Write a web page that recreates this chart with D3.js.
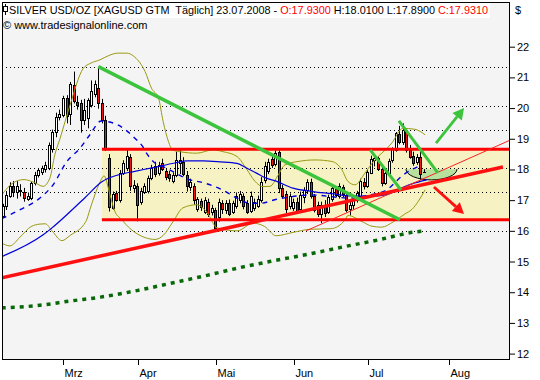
<!DOCTYPE html>
<html><head><meta charset="utf-8">
<script src="https://cdn.jsdelivr.net/npm/d3@7"></script>
<style>html,body{margin:0;padding:0;background:#fff;}svg{display:block;font-family:"Liberation Sans",Arial,sans-serif;}</style>
</head><body><svg id="c" width="540" height="380"></svg>
<script>
// ---------------- DATA ----------------
const firstDay = [2008, 1, 7];      // 07.02.2008 (first candle)
const axisLastDay = [2008, 7, 19];  // axis runs on into August
const monthNames = ["Jan","Feb","Mrz","Apr","Mai","Jun","Jul","Aug","Sep","Okt","Nov","Dez"];
const yTicks = [12,13,14,15,16,17,18,19,20,21,22];

const open = [16.47,16.80,17.15,17.45,17.25,17.30,17.25,17.05,17.08,17.55,17.82,17.92,18.02,18.06,18.66,19.22,19.72,
 19.78,20.32,19.80,20.75,20.21,20.16,19.62,19.67,20.10,20.45,20.65,20.16,19.62,18.37,16.76,17.23,17.00,17.90,18.05,18.40,17.40,
 17.45,16.95,17.28,17.30,17.72,18.10,17.88,18.20,17.95,17.85,17.62,17.82,18.22,18.25,17.82,17.42,17.45,16.72,16.96,16.62,16.95,16.60,
 16.68,16.45,16.92,16.68,16.90,16.62,16.80,17.00,17.12,16.90,16.65,16.75,16.82,17.00,17.65,17.95,18.35,18.18,18.58,17.40,17.20,16.80,
 16.75,16.95,16.70,17.10,17.32,17.60,17.12,16.85,16.55,16.85,16.62,17.05,17.35,17.15,17.42,17.18,16.70,16.85,17.00,17.15,17.60,
 17.45,17.90,18.30,18.38,18.00,17.55,17.90,18.30,18.64,19.15,18.90,19.28,18.65,18.45,18.25,18.40,17.93];
const high = [16.88,17.30,17.58,17.62,17.62,17.52,17.40,17.25,17.60,17.92,18.05,18.12,18.25,18.88,19.30,19.85,19.95,
 20.40,20.42,20.85,21.19,20.40,20.27,20.30,20.32,20.90,20.90,21.35,20.30,19.75,18.50,17.28,17.30,17.98,18.30,18.64,18.50,17.65,
 17.55,17.40,17.55,17.80,18.15,18.25,18.25,18.35,18.05,17.95,17.90,18.58,18.69,18.40,17.95,17.70,17.55,17.10,17.05,17.10,17.05,16.85,
 16.75,17.05,17.00,17.00,17.02,16.98,17.25,17.30,17.22,17.00,17.28,17.05,17.15,17.75,18.25,18.35,18.45,18.62,18.66,17.50,17.30,17.22,
 17.05,17.08,17.28,17.42,17.68,17.70,17.20,16.95,16.95,17.00,17.18,17.45,17.45,17.55,17.50,17.25,16.95,17.10,17.30,17.70,17.72,
 18.00,18.45,18.45,18.42,18.10,18.00,18.35,18.72,19.22,19.42,19.50,19.35,18.80,18.58,18.50,18.64,18.01];
const low = [16.42,16.68,17.08,17.10,17.05,17.12,16.95,16.98,17.00,17.48,17.74,17.82,17.90,17.98,18.55,19.05,19.60,
 19.70,19.50,19.45,20.15,19.95,19.20,19.45,19.34,20.02,20.35,19.98,19.50,18.60,16.63,16.69,16.95,16.92,17.82,17.95,17.30,17.25,
 16.31,16.85,17.20,17.22,17.65,17.75,17.80,17.95,17.65,17.60,17.55,17.75,17.85,17.78,17.28,17.30,16.85,16.62,16.65,16.55,16.45,16.50,
 16.02,16.30,16.55,16.55,16.48,16.55,16.72,16.90,16.70,16.55,16.58,16.65,16.75,16.92,17.55,17.85,18.05,18.10,17.23,17.05,16.58,16.70,
 16.65,16.55,16.62,16.90,17.20,17.05,16.60,16.45,16.25,16.45,16.55,16.95,17.10,17.05,17.10,16.60,16.50,16.70,16.92,17.05,17.35,
 17.40,17.85,18.10,17.95,17.45,17.50,17.80,18.22,18.58,18.82,18.80,18.55,18.35,18.12,18.15,17.66,17.89];
const close = [16.80,17.18,17.45,17.28,17.45,17.34,17.06,17.12,17.55,17.82,17.98,18.05,18.15,18.80,19.22,19.72,19.80,
 20.32,19.74,20.78,20.22,20.10,19.61,19.95,20.27,20.55,20.80,20.16,19.61,18.69,16.79,17.20,17.02,17.90,18.22,18.45,17.45,17.50,
 16.85,17.30,17.45,17.72,18.05,17.85,18.15,18.02,17.75,17.73,17.82,18.31,18.32,17.85,17.45,17.58,17.00,17.03,16.78,17.00,16.55,16.75,
 16.10,16.95,16.70,16.92,16.55,16.90,17.12,17.20,16.80,16.62,17.15,16.95,17.05,17.60,18.12,18.25,18.15,18.55,17.40,17.15,16.70,17.12,
 16.95,16.65,17.18,17.32,17.58,17.15,16.68,16.55,16.85,16.58,17.10,17.38,17.18,17.45,17.20,16.68,16.85,17.02,17.22,17.62,17.45,
 17.92,18.35,18.38,18.02,17.55,17.90,18.28,18.66,19.18,18.88,19.30,18.62,18.42,18.20,18.42,17.85,17.931];

// indicator lines: [trading-day index, price]
const ma20 = [[-0.3,16.40],[4.9,16.69],[10.5,17.07],[14.2,17.50],[18.1,18.26],[21.8,18.69],[24.6,19.13],[27.8,19.58],[32.5,19.45],
 [37.3,19.02],[39.5,18.75],[40.6,18.53],[42.5,18.26],[46.3,18.04],[52.9,17.66],[56.6,17.57],[61.4,17.37],[66.1,17.07],[69.8,16.90],
 [72.7,16.90],[77.4,17.03],[82,17.12],[86.8,17.17],[98,17.07],[103.7,17.17],[108.5,17.34],[113.1,17.82],[118.3,18.15]];
const ma50 = [[-0.3,15.16],[11.4,15.87],[13.3,16.04],[23.2,17.08],[28,17.60],[32.5,17.82],[37.3,17.94],[42.1,18.05],[48.6,18.21],
 [52,18.28],[56.6,18.28],[61.4,18.25],[66.2,18.20],[69,18.04],[71.7,17.88],[74,17.74],[77.4,17.61],[82,17.39],[87.5,17.28],
 [92.9,17.21],[98,17.14],[103.7,17.13],[108.5,17.18],[111.6,17.34],[115.6,17.53],[119.8,17.66]];
const ma200 = [[-0.3,13.49],[9.4,13.56],[19.5,13.72],[27.6,13.84],[38.2,14.06],[47.8,14.30],[57.7,14.55],[67.3,14.81],[77.2,15.04],
 [86.8,15.25],[96.7,15.49],[106.3,15.71],[116.2,15.96],[119.5,16.00]];
const bbUpper = [[-0.3,17.17],[3,17.57],[6,17.67],[9,17.57],[11.4,17.45],[13.3,17.72],[14.7,18.48],[16.2,19.02],[19,20.10],
 [22.7,21.29],[24.6,21.45],[27.4,21.57],[30.3,21.73],[32.5,21.79],[35,21.79],[37.3,21.66],[40.2,21.19],[42,20.65],[44,20.32],
 [45.3,19.56],[46.8,18.91],[47.9,18.64],[50,18.58],[54.8,18.53],[59.4,18.64],[62.2,18.58],[66.2,18.42],[69,17.99],[71.2,17.62],
 [73.5,17.44],[75.5,17.45],[77.7,17.80],[79.7,18.15],[83.4,18.26],[88.2,18.31],[93,18.26],[95.8,17.99],[97.5,17.61],[99.5,17.50],
 [102.3,17.88],[104.3,18.20],[109.9,18.86],[113,19.34],[116.4,19.31],[119.3,19.13]];
const bbLower = [[-0.3,15.60],[2,15.51],[4.9,15.80],[8,16.14],[10.5,16.22],[12,16.23],[13.9,16.00],[16.7,15.68],[19,15.85],
 [23.5,16.31],[24.6,16.69],[26,17.17],[27.5,17.60],[28.6,17.79],[30.3,17.17],[31.7,16.62],[33.3,16.40],[36.2,16.05],[40.2,15.78],
 [43,15.72],[45.3,15.85],[48.1,16.30],[50.9,16.75],[54.8,16.85],[57.7,16.60],[60.5,16.10],[66.2,16.00],[70.7,16.25],[74,16.14],
 [77.2,15.84],[82,15.95],[86.8,16.05],[92.7,16.07],[96.7,16.36],[97.5,16.50],[101.5,16.30],[104.3,16.15],[107,16.12],[110.4,16.30],
 [113.6,16.55],[115.6,16.70],[117.6,17.00],[119.3,17.34]];

// drawing annotations (trading-day index, price)
const fibLow = 16.00, fibHigh = 21.33;
const fibRatios = [0, 0.236, 0.382, 0.5, 0.618, 0.764, 1];
const channelStart = 28, channelTop = 18.66, channelBottom = 16.36;
const redTrend = [[-0.3,14.47],[141.3,18.08]];
const redThin = [[85.7,16.00],[144,18.99]];
const greenDown = [[27,21.35],[112.2,16.36]];
const greenShort1 = [[103.8,18.64],[112.5,17.33]];
const greenShort2 = [[111.9,19.58],[122.9,17.89]];
const arrowUp = [[122.4,18.86],[130.3,20.00]];
const arrowDown = [[121.8,17.43],[130.3,16.55]];
const bowl = {center:121.1, top:18.01, halfDays:7.2, bottom:17.66};

// ---------------- CHART ----------------
const W = 540, H = 380;
const P = {l:2, t:2, r:510, b:360};
const svg = d3.select("#c");
const x = d3.scaleLinear().domain([0,126]).range([2.8,448.8]);
const y = d3.scaleLinear().domain([12,22]).range([353.6,46.7]);

// trading days (weekdays) used for month ticks
const days = d3.utcDay.range(new Date(Date.UTC(...firstDay)), new Date(Date.UTC(...axisLastDay)))
  .filter(d => d.getUTCDay() % 6 !== 0);
const monthTicks = days.map((d,i)=>({d,i})).filter(o => o.i>0 && o.d.getUTCMonth() !== days[o.i-1].getUTCMonth());

svg.append("rect").attr("width",W).attr("height",H).attr("fill","#fff");
svg.append("rect").attr("x",P.l).attr("y",P.t).attr("width",P.r-P.l).attr("height",P.b-P.t).attr("fill","#f4f4f4");
svg.append("defs").append("clipPath").attr("id","clip").append("rect")
  .attr("x",P.l).attr("y",P.t).attr("width",P.r-P.l).attr("height",P.b-P.t);
const g = svg.append("g").attr("clip-path","url(#clip)");

// yellow channel
g.append("rect").attr("x",x(channelStart)).attr("y",y(channelTop))
  .attr("width",P.r-x(channelStart)).attr("height",y(channelBottom)-y(channelTop)).attr("fill","#f6f2c3");

// fibonacci dotted levels
g.selectAll("line.fib").data(fibRatios).join("line").attr("class","fib")
  .attr("x1",P.l).attr("x2",P.r)
  .attr("y1",r=>Math.round(y(fibLow+r*(fibHigh-fibLow)))+0.5)
  .attr("y2",r=>Math.round(y(fibLow+r*(fibHigh-fibLow)))+0.5)
  .attr("stroke","#000").attr("stroke-width",1).attr("stroke-dasharray","1,3");

// bowl
const bx0 = x(bowl.center-bowl.halfDays), bx1 = x(bowl.center+bowl.halfDays);
const by = y(bowl.top), bry = y(bowl.bottom)-y(bowl.top), brx = (bx1-bx0)/2;
g.append("path").attr("d",`M${bx0},${by} A${brx},${bry} 0 0 0 ${bx1},${by} Z`).attr("fill","#b7e29e");
g.append("path").attr("d",`M${bx0},${by} A${brx},${bry} 0 0 0 ${bx1},${by}`).attr("fill","none").attr("stroke","#000").attr("stroke-width",1);

// candles
const idx = d3.range(close.length);
const cg = g.append("g");
cg.selectAll("line").data(idx).join("line")
  .attr("x1",i=>Math.round(x(i))+0.5).attr("x2",i=>Math.round(x(i))+0.5)
  .attr("y1",i=>y(high[i])).attr("y2",i=>y(low[i])).attr("stroke","#000").attr("stroke-width",1);
cg.selectAll("rect").data(idx).join("rect")
  .attr("x",i=>Math.round(x(i))-0.5).attr("width",2)
  .attr("y",i=>Math.round(y(Math.max(open[i],close[i])))+0.5)
  .attr("height",i=>Math.max(Math.round(y(Math.min(open[i],close[i])))-Math.round(y(Math.max(open[i],close[i]))),0.01))
  .attr("fill",i=>close[i]>=open[i]?"#fff":"#f01414").attr("stroke","#000").attr("stroke-width",1);

// indicator lines
const curve = d3.line().x(d=>x(d[0])).y(d=>y(d[1])).curve(d3.curveMonotoneX);
const straight = d3.line().x(d=>x(d[0])).y(d=>y(d[1]));
g.append("path").attr("d",curve(bbUpper)).attr("fill","none").attr("stroke","#9a9a12").attr("stroke-width",1);
g.append("path").attr("d",curve(bbLower)).attr("fill","none").attr("stroke","#9a9a12").attr("stroke-width",1);
g.append("path").attr("d",curve(ma50)).attr("fill","none").attr("stroke","#0000dd").attr("stroke-width",1.2);
g.append("path").attr("d",curve(ma20)).attr("fill","none").attr("stroke","#0000dd").attr("stroke-width",1.4).attr("stroke-dasharray","5,5");
g.append("path").attr("d",curve(ma200)).attr("fill","none").attr("stroke","#076807").attr("stroke-width",3.5).attr("stroke-dasharray","4,5");

// channel borders
[channelTop, channelBottom].forEach(v=>{
  g.append("line").attr("x1",x(channelStart)).attr("x2",P.r).attr("y1",y(v)).attr("y2",y(v))
   .attr("stroke","#ff0000").attr("stroke-width",3);
});
// trend lines
g.append("path").attr("d",straight(redTrend)).attr("stroke","#ff1010").attr("stroke-width",3.5).attr("fill","none");
g.append("path").attr("d",straight(redThin)).attr("stroke","#ff2020").attr("stroke-width",1).attr("fill","none");
g.append("path").attr("d",straight(greenDown)).attr("stroke","#3dc43d").attr("stroke-width",3.5).attr("fill","none");
g.append("path").attr("d",straight(greenShort1)).attr("stroke","#3dc43d").attr("stroke-width",3).attr("fill","none");
g.append("path").attr("d",straight(greenShort2)).attr("stroke","#3dc43d").attr("stroke-width",3).attr("fill","none");

// arrows
function arrow(pts, color){
  const x0=x(pts[0][0]), y0=y(pts[0][1]), x1=x(pts[1][0]), y1=y(pts[1][1]);
  const ang=Math.atan2(y1-y0,x1-x0), L=11, Wd=6;
  const bxp=x1-L*Math.cos(ang), byp=y1-L*Math.sin(ang);
  g.append("line").attr("x1",x0).attr("y1",y0).attr("x2",bxp).attr("y2",byp).attr("stroke",color).attr("stroke-width",2.8);
  const px=-Math.sin(ang), py=Math.cos(ang);
  g.append("path").attr("d",`M${x1},${y1}L${bxp+px*Wd},${byp+py*Wd}L${bxp-px*Wd},${byp-py*Wd}Z`).attr("fill",color);
}
arrow(arrowUp,"#3dc43d");
arrow(arrowDown,"#ff1010");

// frame
svg.append("rect").attr("x",P.l+0.5).attr("y",P.t+0.5).attr("width",P.r-P.l-1).attr("height",P.b-P.t-1)
  .attr("fill","none").attr("stroke","#000").attr("stroke-width",1);

// y axis (right)
const ya = svg.append("g").attr("transform",`translate(${P.r},0)`)
  .call(d3.axisRight(y).tickValues(yTicks).tickSize(5).tickPadding(2).tickFormat(d3.format("d")));
ya.select(".domain").remove();
ya.selectAll("text").attr("font-size",11).attr("font-family","Liberation Sans, Arial, sans-serif").attr("fill","#000");
ya.selectAll("line").attr("stroke","#000");
svg.append("text").attr("x",515).attr("y",14).attr("font-size",11).text("$");

// x axis (months)
const xa = svg.append("g").attr("transform",`translate(0,${P.b})`)
  .call(d3.axisBottom(x).tickValues(monthTicks.map(o=>o.i)).tickSize(5).tickPadding(4)
     .tickFormat(i=>monthNames[days[i].getUTCMonth()]));
xa.select(".domain").remove();
xa.selectAll(".tick").attr("transform",function(){const t=d3.select(this).attr("transform");const m=/translate\(([-\d.]+)/.exec(t);return `translate(${Math.round(+m[1])+0.5},0)`;});
xa.selectAll("text").attr("text-anchor","start").attr("dx",1).attr("font-size",11)
  .attr("font-family","Liberation Sans, Arial, sans-serif").attr("fill","#000");
xa.selectAll("line").attr("stroke","#000");

// header
const hdr = svg.append("g");
const bg = hdr.append("rect").attr("x",P.l+1).attr("y",P.t+1).attr("height",15).attr("fill","#fff");
hdr.append("line").attr("x1",5.5).attr("x2",5.5).attr("y1",4).attr("y2",15).attr("stroke","#000");
hdr.append("rect").attr("x",3.5).attr("y",6.5).attr("width",4).attr("height",5).attr("fill","#fff").attr("stroke","#000");
const t1 = hdr.append("text").attr("x",9).attr("y",13.5).attr("font-size",11);
t1.append("tspan").attr("fill","#000").text("SILVER USD/OZ [XAGUSD GTM\u00a0 Täglich] 23.07.2008 - ");
t1.append("tspan").attr("fill","#ff0000").text("O:17.9300");
t1.append("tspan").attr("fill","#000").text(" H:18.0100 L:17.8900 ");
t1.append("tspan").attr("fill","#ff0000").text("C:17.9310");
t1.attr("textLength",479).attr("lengthAdjust","spacingAndGlyphs");
bg.attr("width",489-P.l);
hdr.append("text").attr("x",3).attr("y",29).attr("font-size",11).text("© www.tradesignalonline.com");
</script></body></html>
